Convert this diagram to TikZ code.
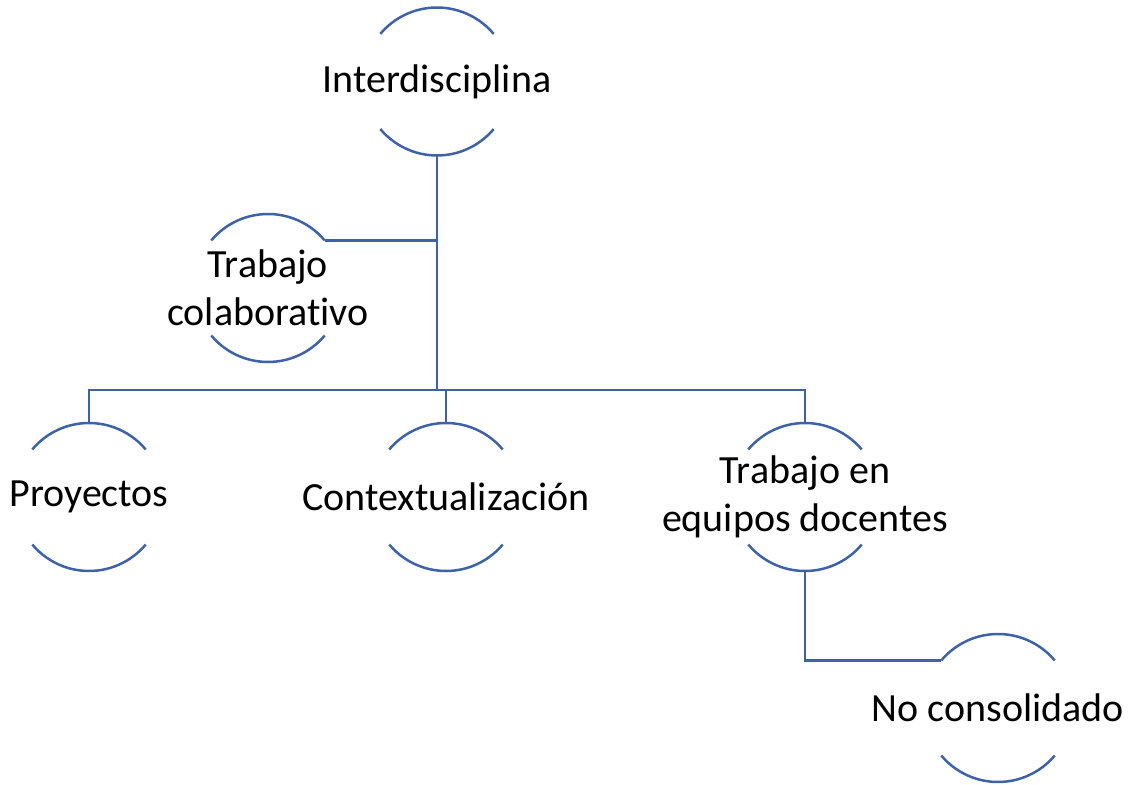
\documentclass[tikz,border=0pt]{standalone}
\usepackage{fontspec}
\setmainfont{Carlito}[Ligatures={NoCommon}]
\usepackage{tikz}
\definecolor{azul}{RGB}{61,98,168}

\begin{document}
\begin{tikzpicture}[x=1pt,y=1pt,
    burbuja/.style={circle,minimum size=148pt,inner sep=0pt,outer sep=0pt},
    texto/.style={font=\fontsize{40}{48}\selectfont,align=center},
    linea/.style={draw=azul,line width=2.5pt}]
    \useasboundingbox (0,0) rectangle (1129,784);
    % burbujas
    \node[burbuja] (inter) at (437,702.5) {};
    \node[burbuja] (colab) at (268,496) {};
    \node[burbuja] (proy) at (89,287) {};
    \node[burbuja] (cont) at (446,287) {};
    \node[burbuja] (equip) at (805,287) {};
    \node[burbuja] (nocons) at (998,76) {};
    \foreach \n in {inter,colab,proy,cont,equip,nocons} {
        \draw[linea] (\n.40) arc (40:140:74);
        \draw[linea] (\n.220) arc (220:320:74);
    }
    % textos
    \node[texto] (inter-t) at (inter) {Interdisciplina};
    \node[texto] (colab-t) at (colab) {Trabajo\\colaborativo};
    \node[texto] (proy-t) at (proy) {Proyectos};
    \node[texto] (cont-t) at (cont) {Contextualización};
    \node[texto] (equip-t) at (equip) {Trabajo en\\equipos docentes};
    \node[texto] (nocons-t) at (nocons) {No consolidado};
    % conectores
    \coordinate (barra) at (437,394);
    \draw[linea] (inter.south) -- (barra);
    \draw[linea] (colab.40) -- (colab.40 -| barra);
    \draw[linea] (barra) -| (proy.north);
    \draw[linea] (barra) -| (cont.north);
    \draw[linea] (barra) -| (equip.north);
    \draw[linea] (equip.south) |- (nocons.140);
\end{tikzpicture}
\end{document}
